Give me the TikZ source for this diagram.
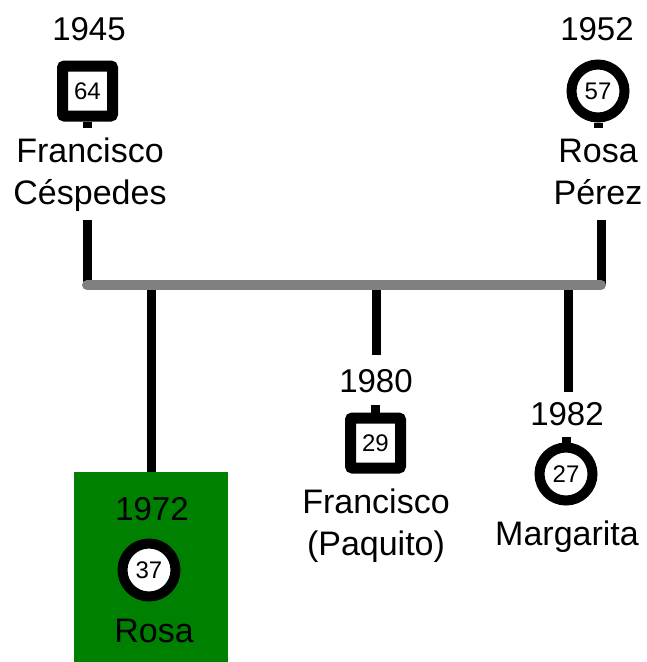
\documentclass[tikz,border=0pt]{standalone}
\usepackage{fontspec}
\setmainfont{Liberation Sans}
\definecolor{kidgreen}{RGB}{0,128,0}
\definecolor{bargray}{RGB}{128,128,128}

\begin{document}
\begin{tikzpicture}[x=1pt,y=-1pt,
    born/.style={anchor=base,inner sep=0pt,font=\fontsize{33}{42}\selectfont},
    person/.style={anchor=base,align=center,inner sep=0pt,font=\fontsize{34}{42}\selectfont},
    male/.style={draw,rectangle,rounded corners=2pt,line width=11pt,fill=white,
        minimum size=50pt,inner sep=0pt,font=\fontsize{24}{24}\selectfont},
    female/.style={draw,circle,line width=10pt,fill=white,
        minimum size=53pt,inner sep=0pt,font=\fontsize{24}{24}\selectfont},
    stem/.style={line width=9pt}]
            \useasboundingbox (0,0) rectangle (646,662);

            % the daughter in green
            \fill[kidgreen] (74,472) rectangle (228,662);

            % parents (base = last line)
            \node[born] (y45) at (89,40) {1945};
            \node[male] (p64) at (87.5,91) {64};
            \node[person] (n64) at (90,204) {Francisco\\Céspedes};
            \node[born] (y52) at (597,40) {1952};
            \node[female] (p57) at (598,91) {57};
            \node[person] (n57) at (598,204) {Rosa\\Pérez};

            % children
            \node[born] (y72) at (152,520) {1972};
            \node[female] (c37) at (149,570) {37};
            \node[person] (n37) at (154,642) {Rosa};
            \node[born] (y80) at (376,392) {1980};
            \node[male] (c29) at (375.5,443) {29};
            \node[person] (n29) at (376,555) {Francisco\\(Paquito)};
            \node[born] (y82) at (567,425) {1982};
            \node[female] (c27) at (566,474) {27};
            \node[person] (n27) at (567,545) {Margarita};

            % stems
            \coordinate (s64) at (87.5,128);
            \coordinate (s57) at (598,128);
            \coordinate (s29) at (375.5,405);
            \coordinate (s27) at (566,437);
            \draw[stem] (p64.south) -- (s64);
            \draw[stem] (p57.south) -- (s57);
            \draw[stem] (c29.north) -- (s29);
            \draw[stem] (c27.north) -- (s27);

            % family lines
            \coordinate (l) at (87,285);
            \coordinate (r) at (601,285);
            \coordinate (f64) at (87,220);
            \coordinate (f57) at (601,220);
            \coordinate (f37) at (151.5,472);
            \coordinate (f29) at (376,355);
            \coordinate (f27) at (568,392);
            \draw[stem] (f64) -- (l);
            \draw[stem] (f57) -- (r);
            \foreach \c in {f37,f29,f27}
                \draw[stem] (\c |- l) -- (\c);
            \draw[bargray,line width=10pt,line cap=round] (l) -- (r);
\end{tikzpicture}
\end{document}
